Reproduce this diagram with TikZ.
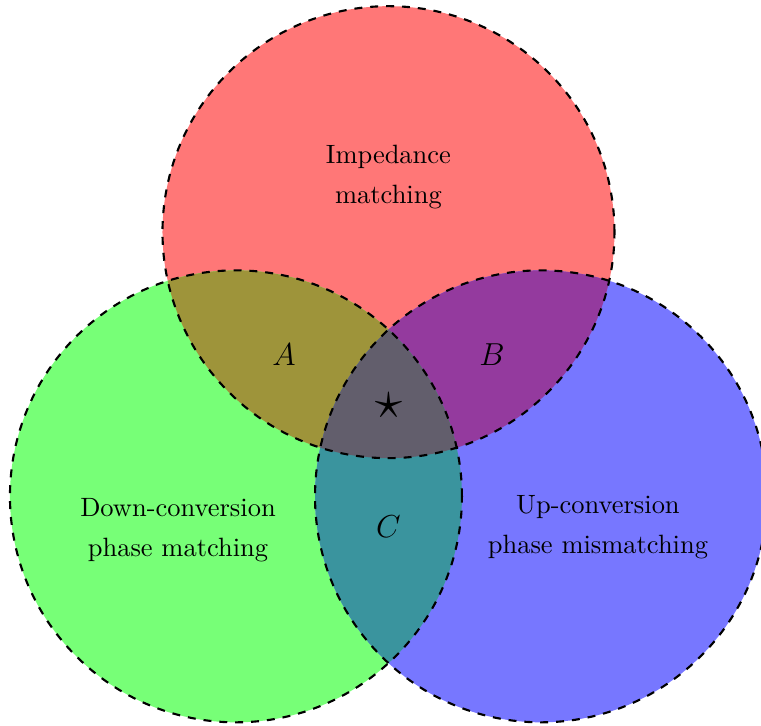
\documentclass[tikz,border=0pt]{standalone}
\definecolor{impcol}{RGB}{255,119,119}
\definecolor{downcol}{RGB}{119,255,119}
\definecolor{upcol}{RGB}{119,119,255}
\definecolor{acol}{RGB}{158,148,58}
\definecolor{bcol}{RGB}{148,58,158}
\definecolor{ccol}{RGB}{58,148,158}
\definecolor{midcol}{RGB}{98,94,108}
\tikzset{
    rim/.style={thick,dashed},
    region/.style={font=\large},
    caption/.style={align=center}
}
\begin{document}
\begin{tikzpicture}
    \useasboundingbox (-5.157,-4.217) rectangle (4.945,5.42);
    % three sets
    \coordinate (imp) at (90:2.338);
    \coordinate (down) at (210:2.338);
    \coordinate (up) at (330:2.338);

    \fill[impcol] (imp) circle (3);
    \fill[downcol] (down) circle (3);
    \fill[upcol] (up) circle (3);

    % overlaps
    \begin{scope}
        \clip (imp) circle (3);
        \fill[acol] (down) circle (3);
        \fill[bcol] (up) circle (3);
    \end{scope}
    \begin{scope}
        \clip (down) circle (3);
        \fill[ccol] (up) circle (3);
        \clip (imp) circle (3);
        \fill[midcol] (up) circle (3);
    \end{scope}

    \foreach \c in {imp,down,up}
        \draw[rim] (\c) circle (3);

    \node[caption] (imptext) at (0,3.07) {Impedance\\[3pt]matching};
    \node[caption] (downtext) at (-2.794,-1.615) {Down-conversion\\[3pt]phase matching};
    \node[caption] (uptext) at (2.781,-1.576) {Up-conversion\\[3pt]phase mismatching};

    \node[region] (a) at (-1.387,0.708) {$A$};
    \node[region] (b) at (1.374,0.708) {$B$};
    \node[region] (c) at (0,-1.576) {$C$};
    \node[font=\huge] (mid) at (0,0.03) {$\star$};
\end{tikzpicture}
\end{document}
